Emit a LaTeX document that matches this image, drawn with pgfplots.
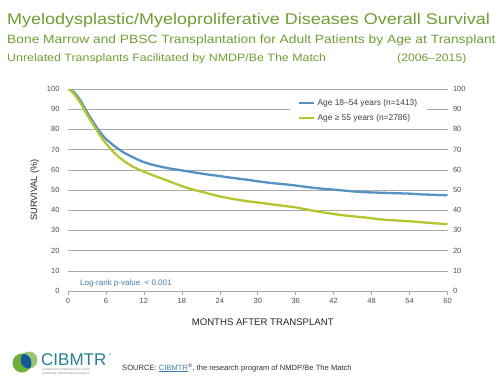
\documentclass[border=0pt]{standalone}
\usepackage{graphicx}
\usepackage{pgfplots}
\pgfplotsset{compat=1.18}
\usepackage{fontspec}
\setmainfont{Liberation Sans}
\definecolor{titlegreen}{RGB}{112,158,52}
\definecolor{bluecurve}{RGB}{84,146,194}
\definecolor{greencurve}{RGB}{180,198,45}
\definecolor{ticktext}{RGB}{80,80,80}
\definecolor{gridgray}{RGB}{170,170,170}
\definecolor{logrank}{RGB}{70,125,165}
\definecolor{cibteal}{RGB}{40,128,150}
\definecolor{logogreen}{RGB}{110,175,60}
\definecolor{logoblue}{RGB}{20,90,150}
\definecolor{linkblue}{RGB}{60,130,180}
\begin{document}
\begin{tikzpicture}
\useasboundingbox[fill=white] (0pt,0pt) rectangle (500pt,381pt);
% titles
\node[anchor=base west, inner sep=0, text=titlegreen, font=\fontsize{15.5}{18}\selectfont] at (7pt,356pt) {\scalebox{1.16}[1]{Myelodysplastic/Myeloproliferative\ Diseases\ Overall\ Survival}};
\node[anchor=base west, inner sep=0, text=titlegreen, font=\fontsize{12}{14}\selectfont] at (7pt,337.5pt) {\scalebox{1.15}[1]{Bone Marrow and PBSC Transplantation for Adult Patients by Age at Transplant}};
\node[anchor=base west, inner sep=0, text=titlegreen, font=\fontsize{10.7}{12}\selectfont] at (7pt,319pt) {\scalebox{1.16}[1]{Unrelated Transplants Facilitated by NMDP/Be The Match}};
\node[anchor=base west, inner sep=0, text=titlegreen, font=\fontsize{10.7}{12}\selectfont] at (397pt,319pt) {\scalebox{1.14}[1]{(2006–2015)}};

\begin{axis}[
  at={(68pt,90pt)}, anchor=south west, scale only axis,
  width=379.5pt, height=202pt,
  xmin=0, xmax=60, ymin=0, ymax=100,
  xtick={0,6,...,60}, ytick={0,10,...,100},
  ymajorgrids, grid style={draw=gridgray, line width=0.6pt},
  axis x line*=bottom, axis y line*=left,
  y axis line style={draw=none},
  x axis line style={draw=gridgray, line width=0.6pt},
  xtick style={draw=gridgray, line width=0.6pt},
  ytick style={draw=none},
  tick align=outside, major tick length=4pt,
  /pgf/number format/assume math mode=true,
  ticklabel style={font=\fontsize{7.5}{9}\selectfont, text=ticktext},
  yticklabel style={xshift=-1pt},
  xlabel={MONTHS AFTER TRANSPLANT},
  xlabel style={font=\fontsize{9.6}{11}\selectfont, text=black!85, yshift=-8pt, xshift=5pt},
  ylabel={SURVIVAL (\%)},
  ylabel style={font=\fontsize{9.2}{11}\selectfont, text=black!85, yshift=1pt},
  legend style={at={(0.585,0.985)}, anchor=north west, draw=none, fill=white,
    font=\fontsize{8.4}{10}\selectfont, text=black!75, row sep=3.5pt,
    inner xsep=8pt, inner ysep=5pt},
  legend cell align=left,
  legend image code/.code={\draw[#1] (0pt,0pt) -- (15pt,0pt);},
]
\addplot[color=bluecurve, line width=2.3pt] coordinates {
(0,100) (0.5,99.6) (1,98.2) (1.5,96.4) (2,94.2) (2.5,91.4) (3,88.6) (3.5,86) (4,83.6) (4.5,81.2) (5,79) (5.5,77) (6,75.2) (7,72.6) (8,70.2) (9,68.2) (10,66.6) (11,65.1) (12,63.8) (13,62.8) (14,62) (15,61.3) (16,60.7) (17,60.2) (18,59.7) (19,59.2) (20,58.7) (21,58.2) (22,57.7) (23,57.3) (24,56.9) (25,56.4) (26,56) (27,55.6) (28,55.2) (29,54.8) (30,54.3) (31,53.9) (32,53.5) (33,53.2) (34,52.9) (35,52.6) (36,52.2) (37,51.8) (38,51.4) (39,51) (40,50.7) (41,50.4) (42,50.2) (43,49.9) (44,49.6) (45,49.3) (46,49.1) (47,48.9) (48,48.8) (49,48.7) (50,48.6) (51,48.5) (52,48.4) (53,48.3) (54,48.2) (55,48) (56,47.8) (57,47.7) (58,47.6) (59,47.5) (60,47.4)
};
\addlegendentry{Age 18–54 years (n=1413)}
\addplot[color=greencurve, line width=2.3pt] coordinates {
(0,100) (0.5,99.2) (1,97.4) (1.5,95.4) (2,93) (2.5,90.2) (3,87.4) (3.5,84.8) (4,82.3) (4.5,79.8) (5,77.4) (5.5,75.1) (6,73) (7,69.4) (8,66.4) (9,64) (10,62) (11,60.4) (12,59.1) (13,57.8) (14,56.6) (15,55.5) (16,54.3) (17,53.1) (18,51.9) (19,50.9) (20,50) (21,49.2) (22,48.4) (23,47.6) (24,46.8) (25,46.2) (26,45.6) (27,45.1) (28,44.6) (29,44.2) (30,43.8) (31,43.4) (32,43) (33,42.6) (34,42.2) (35,41.8) (36,41.4) (37,40.8) (38,40.2) (39,39.6) (40,39.1) (41,38.6) (42,38.1) (43,37.7) (44,37.3) (45,37) (46,36.7) (47,36.4) (48,36) (49,35.6) (50,35.3) (51,35.1) (52,34.9) (53,34.7) (54,34.5) (55,34.3) (56,34) (57,33.8) (58,33.5) (59,33.3) (60,33.1)
};
\addlegendentry{Age ≥ 55 years (n=2786)}
\end{axis}

\begin{axis}[
  at={(68pt,90pt)}, anchor=south west, scale only axis,
  width=379.5pt, height=202pt,
  xmin=0, xmax=60, ymin=0, ymax=100,
  hide x axis, axis y line*=right,
  y axis line style={draw=none}, ytick style={draw=none},
  ytick={0,10,...,100},
  /pgf/number format/assume math mode=true,
  yticklabel style={font=\fontsize{7.5}{9}\selectfont, text=ticktext, xshift=2pt},
]
\end{axis}

\node[anchor=base west, inner sep=0, text=logrank, font=\fontsize{8}{9}\selectfont] at (80pt,96pt) {Log-rank p-value\ \ < 0.001};

% logo
\fill[logogreen] (22pt,18pt) circle (9.5pt);
\fill[logogreen!70!white] (29pt,21pt) circle (8.5pt);
\begin{scope}
\clip (22pt,18pt) circle (9.5pt);
\fill[logoblue] (29pt,21pt) circle (8.5pt);
\end{scope}
\node[anchor=base west, inner sep=0, text=cibteal, font=\fontsize{17}{18}\selectfont] at (41pt,16pt) {CIBMTR};
\node[anchor=base west, inner sep=0, text=cibteal, font=\fontsize{3}{3}\selectfont] at (109pt,26pt) {®};
\node[anchor=base west, inner sep=0, text=gray, font=\fontsize{2.6}{3}\selectfont] at (42pt,10.5pt) {CENTER FOR INTERNATIONAL BLOOD};
\node[anchor=base west, inner sep=0, text=gray, font=\fontsize{2.6}{3}\selectfont] at (42pt,7pt) {\& MARROW TRANSPLANT RESEARCH};

\node[anchor=base west, inner sep=0, text=black!80, font=\fontsize{7.6}{9}\selectfont] at (122pt,11pt) {SOURCE: \textcolor{linkblue}{\underline{CIBMTR}}\textsuperscript{®}, the research program of NMDP/Be The Match};
\end{tikzpicture}
\end{document}
